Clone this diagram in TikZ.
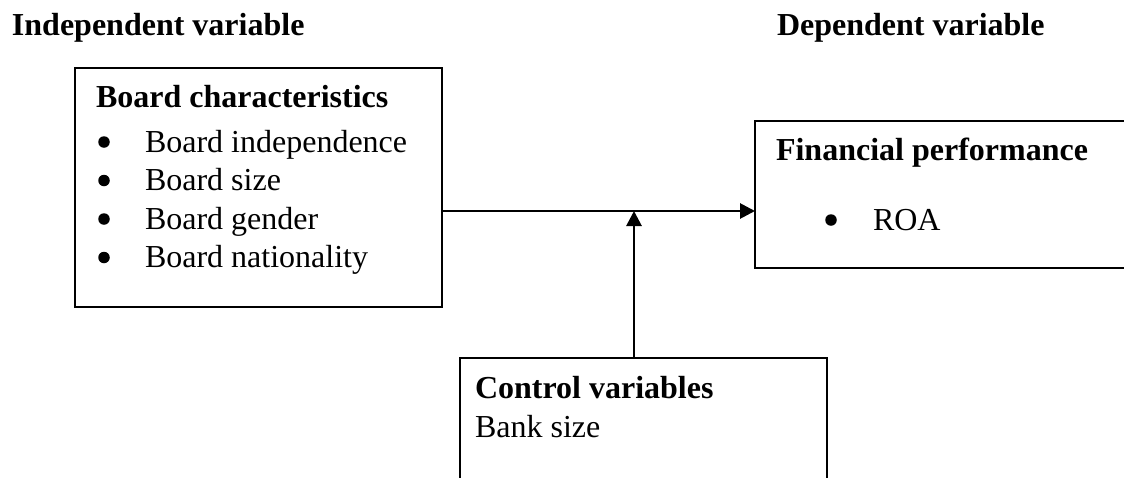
\documentclass[tikz,border=0pt]{standalone}
\usepackage{fontspec}
\setmainfont{Liberation Serif}
\usetikzlibrary{arrows.meta}
\begin{document}
\begin{tikzpicture}[x=1pt,y=-1pt,
  every node/.style={inner sep=0pt,outer sep=0pt,font=\fontsize{32}{38.5}\selectfont},
  frame/.style={draw,line width=2.8pt,rectangle,anchor=north west},
  txt/.style={anchor=base west},
  dot/.style={circle,fill,minimum size=11.5pt},
  hdr/.style={anchor=base west,font=\fontsize{32}{38.5}\selectfont\bfseries},
  link/.style={line width=2.8pt,-{Triangle[length=15pt,width=15pt]}}]
\clip (0,0) rectangle (1124,477);
\fill[white] (0,0) rectangle (1124,477);

% column headings
\node[hdr] (hi) at (12,35) {Independent variable};
\node[hdr] (hd) at (777,35) {Dependent variable};

% boxes
\node[frame,minimum width=367pt,minimum height=239pt] (bc) at (75,68) {};
\node[frame,minimum width=450pt,minimum height=147pt] (fp) at (755,121) {};
\node[frame,minimum width=367pt,minimum height=170pt] (cv) at (460,358) {};

% board characteristics
\node[hdr] (bct) at (96,107) {Board characteristics};
\node[dot] (b1) at (104,142) {};
\node[txt] (i1) at (145,152) {Board independence};
\node[dot] (b2) at (104,180.5) {};
\node[txt] (i2) at (145,190.5) {Board size};
\node[dot] (b3) at (104,219) {};
\node[txt] (i3) at (145,229) {Board gender};
\node[dot] (b4) at (104,257.5) {};
\node[txt] (i4) at (145,267.5) {Board nationality};

% financial performance
\node[hdr] (fpt) at (776,160) {Financial performance};
\node[dot] (b5) at (831,220) {};
\node[txt] (i5) at (873,230) {ROA};

% control variables
\node[hdr] (cvt) at (475,398) {Control variables};
\node[txt] (c1) at (475,437) {Bank size};

% connectors
\coordinate (jn) at (634,211);
\draw[link] (bc.east |- jn) -- (fp.west |- jn);
\draw[link] (cv.north -| jn) -- (jn);
\end{tikzpicture}
\end{document}
